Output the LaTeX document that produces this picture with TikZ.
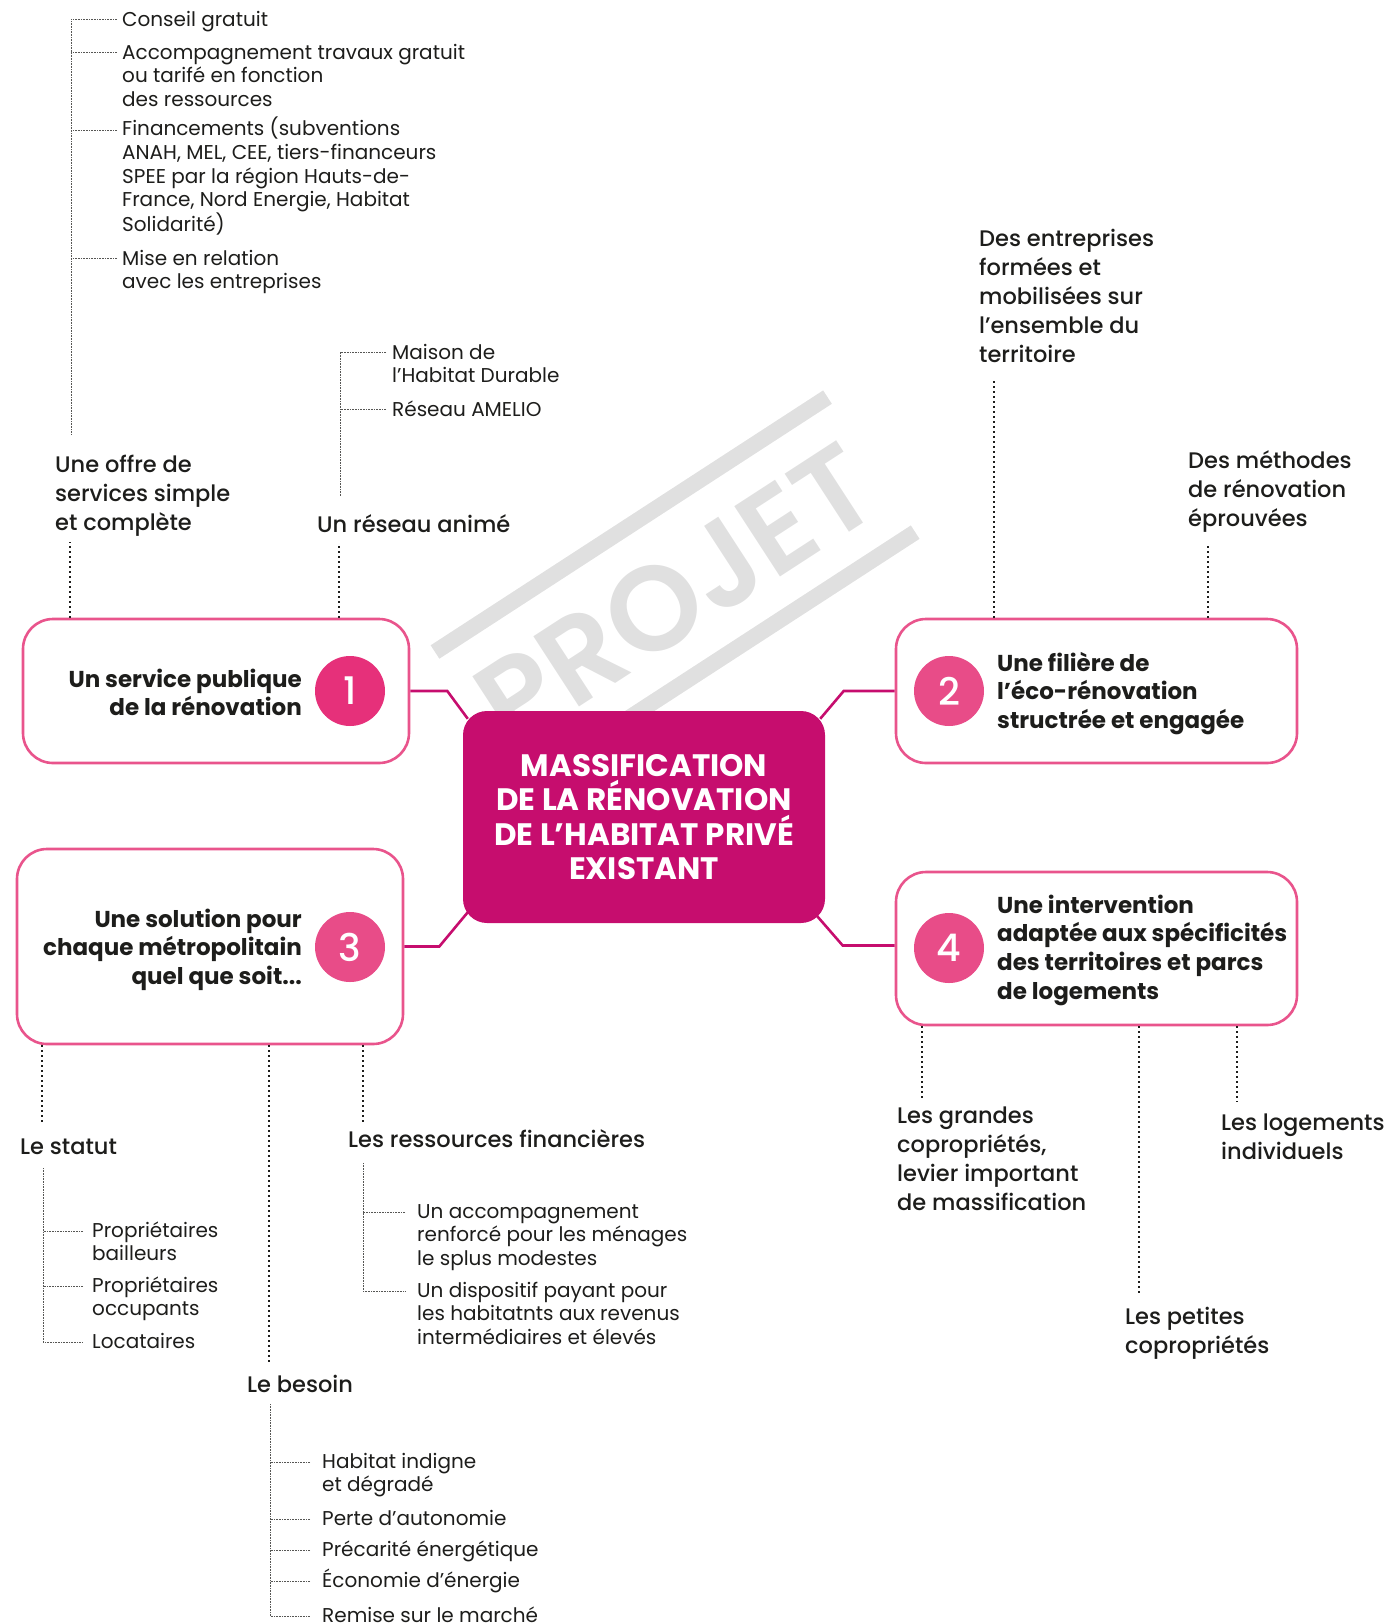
\documentclass[tikz,border=0pt]{standalone}
\usepackage{fontspec}
\setmainfont{Poppins}
\newfontfamily\popmed{Poppins Medium}
\newfontfamily\popsemi{Poppins SemiBold}

\definecolor{ink}{HTML}{1D1D1B}
\definecolor{coeur}{HTML}{C60D6E}
\definecolor{rose}{HTML}{E9548C}
\definecolor{vif}{HTML}{E6307A}
\definecolor{doux}{HTML}{E84C88}
\definecolor{filigrane}{HTML}{E0E0E0}

\tikzset{
  card/.style={draw=rose, line width=2.6pt, rounded corners=30pt, fill=white},
  hub/.style={fill=coeur, rounded corners=24pt, text=white, align=center,
    font=\bfseries\fontsize{31}{34.5}\selectfont},
  pastille/.style={circle, fill=#1, minimum size=70pt, inner sep=0pt, text=white,
    font=\popmed\fontsize{38}{38}\selectfont},
  title/.style={font=\popmed\fontsize{22.5}{29}\selectfont, text=ink, align=left,
    inner sep=0pt, anchor=base west},
  item/.style={font=\fontsize{20}{23.7}\selectfont, text=ink, align=left,
    inner sep=0pt, anchor=base west},
  boxtext/.style={font=\bfseries\fontsize{23}{28.8}\selectfont, text=ink, inner sep=0pt},
  link/.style={draw=coeur, line width=2.6pt},
  dotline/.style={draw=ink, line width=2pt, dash pattern=on 1.8pt off 3.2pt},
  twig/.style={draw=ink!75, line width=0.7pt, dash pattern=on 0.8pt off 0.8pt},
}

\begin{document}
\begin{tikzpicture}[x=1pt, y=-1pt]
  \useasboundingbox (0,0) rectangle (1392,1623);

  % filigrane
  \begin{scope}[shift={(435,652)}, rotate=33]
    \draw[filigrane, line width=16pt] (0,0) -- (468,0);
    \draw[filigrane, line width=16pt] (0,161) -- (468,161);
    \node[anchor=north west, inner sep=0pt, transform shape, text=filigrane,
      font=\popsemi\fontsize{120}{120}\selectfont] (projet) at (10,40) {PROJET};
  \end{scope}

  % coeur et les 4 axes
  \node[hub, minimum width=362pt, minimum height=212pt] (mid) at (644,817)
    {MASSIFICATION\\DE LA RÉNOVATION\\DE L’HABITAT PRIVÉ\\EXISTANT};
  \node[card, minimum width=386pt, minimum height=144pt] (box1) at (216,691) {};
  \node[card, minimum width=401pt, minimum height=144pt] (box2) at (1096.5,691) {};
  \node[card, minimum width=386pt, minimum height=195pt] (box3) at (210,946.5) {};
  \node[card, minimum width=401pt, minimum height=153pt] (box4) at (1096.5,948.5) {};

  \draw[link] (box1.east) -- ++(37,0) -- ([shift={(5,8)}]mid.north west);
  \draw[link] (box2.west) -- ++(-51,0) -- ([shift={(-5,8)}]mid.north east);
  \draw[link] (box3.east) -- ++(35,0) -- ([shift={(5,-11)}]mid.south west);
  \draw[link] ([yshift=3pt]box4.west) -- ++(-52,0) -- ([shift={(-8,-7)}]mid.south east);

  \node[pastille=vif]  (num1) at (350,691) {1};
  \node[pastille=doux] (num2) at (949,691) {2};
  \node[pastille=doux] (num3) at (350,947) {3};
  \node[pastille=doux] (num4) at (949,948) {4};

  \node[boxtext, align=right, anchor=base east] (txt1) at (302,715.8)
    {Un service publique\\de la rénovation};
  \node[boxtext, align=left, anchor=base west] (txt2) at (997,728.6)
    {Une filière de\\l’éco-rénovation\\structrée et engagée};
  \node[boxtext, align=right, anchor=base east] (txt3) at (302,984.6)
    {Une solution pour\\chaque métropolitain\\quel que soit...};
  \node[boxtext, align=left, anchor=base west] (txt4) at (997,999.4)
    {Une intervention\\adaptée aux spécificités\\des territoires et parcs\\de logements};

  % axe 1
  \node[title] (offre) at (55,530) {Une offre de\\services simple\\et complète};
  \node[title] (reseau) at (317,532) {Un réseau animé};
  \draw[dotline] ([xshift=48pt]box1.north west) -- ++(0,-76);
  \draw[dotline] ([xshift=317.5pt]box1.north west) -- ++(0,-72);

  \node[item] (a1) at (122,26) {Conseil gratuit};
  \node[item] (a2) at (122,106.4) {Accompagnement travaux gratuit\\ou tarifé en fonction\\des ressources};
  \node[item] (a3) at (122,231.8) {Financements (subventions\\ANAH, MEL, CEE, tiers-financeurs\\SPEE par la région Hauts-de-\\France, Nord Energie, Habitat\\Solidarité)};
  \node[item] (a4) at (122,288.7) {Mise en relation\\avec les entreprises};
  \draw[twig] ([shift={(-5,-7)}]a1.base west) -| ([shift={(16,-96)}]offre.base west);
  \draw[twig] ([shift={(-5,-54.4)}]a2.base west) -- +(-46,0);
  \draw[twig] ([shift={(-5,-101.8)}]a3.base west) -- +(-46,0);
  \draw[twig] ([shift={(-5,-30.7)}]a4.base west) -- +(-46,0);

  \node[item] (b1) at (392,382.7) {Maison de\\l’Habitat Durable};
  \node[item] (b2) at (392,416) {Réseau AMELIO};
  \draw[twig] ([shift={(-6,-30.7)}]b1.base west) -| ([shift={(23.5,-36)}]reseau.base west);
  \draw[twig] ([shift={(-6,-7)}]b2.base west) -- +(-45.5,0);

  % axe 2
  \node[title] (entreprises) at (979,362)
    {Des entreprises\\formées et\\mobilisées sur\\l’ensemble du\\territoire};
  \node[title] (methodes) at (1188,526) {Des méthodes\\de rénovation\\éprouvées};
  \draw[dotline] ([xshift=99pt]box2.north west) -- ++(0,-239);
  \draw[dotline] ([xshift=313pt]box2.north west) -- ++(0,-72);

  % axe 3
  \node[title] (statut) at (20,1154) {Le statut};
  \node[title] (besoin) at (247,1392) {Le besoin};
  \node[title] (ressources) at (348,1147) {Les ressources financières};
  \draw[dotline] ([xshift=26pt]box3.south west) -- ++(0,79);
  \draw[dotline] ([xshift=253pt]box3.south west) -- ++(0,318);
  \draw[dotline] ([xshift=347pt]box3.south west) -- ++(0,79);

  \node[item] (s1) at (92,1260.7) {Propriétaires\\bailleurs};
  \node[item] (s2) at (92,1315.7) {Propriétaires\\occupants};
  \node[item] (s3) at (92,1348) {Locataires};
  \draw[twig] (statut.base west) ++(23,14) |- ([shift={(-9,-6)}]s3.base west);
  \draw[twig] ([shift={(-9,-29.7)}]s1.base west) -- +(-40,0);
  \draw[twig] ([shift={(-9,-29.7)}]s2.base west) -- +(-40,0);

  \node[item] (r1) at (417,1265.4) {Un accompagnement\\renforcé pour les ménages\\le splus modestes};
  \node[item] (r2) at (417,1344.4) {Un dispositif payant pour\\les habitatnts aux revenus\\intermédiaires et élevés};
  \draw[twig] (ressources.base west) ++(15,16) |- ([shift={(-12,-53.4)}]r2.base west);
  \draw[twig] ([shift={(-12,-53.4)}]r1.base west) -- +(-42,0);

  \node[item] (n1) at (322,1491.7) {Habitat indigne\\et dégradé};
  \node[item] (n2) at (322,1525) {Perte d’autonomie};
  \node[item] (n3) at (322,1556) {Précarité énergétique};
  \node[item] (n4) at (322,1587) {Économie d’énergie};
  \node[item] (n5) at (322,1622) {Remise sur le marché};
  \draw[twig] (besoin.base west) ++(23,12) |- ([shift={(-12,-6)}]n5.base west);
  \draw[twig] ([shift={(-12,-29.7)}]n1.base west) -- +(-40,0);
  \draw[twig] ([shift={(-12,-6)}]n2.base west) -- +(-40,0);
  \draw[twig] ([shift={(-12,-6)}]n3.base west) -- +(-40,0);
  \draw[twig] ([shift={(-12,-6)}]n4.base west) -- +(-40,0);

  % axe 4
  \node[title] (grandes) at (897,1210)
    {Les grandes\\copropriétés,\\levier important\\de massification};
  \node[title] (petites) at (1125,1353) {Les petites\\copropriétés};
  \node[title] (logements) at (1221,1159) {Les logements\\individuels};
  \draw[dotline] ([xshift=27pt]box4.south west) -- ++(0,72);
  \draw[dotline] ([xshift=244pt]box4.south west) -- ++(0,267);
  \draw[dotline] ([xshift=342pt]box4.south west) -- ++(0,76);
\end{tikzpicture}
\end{document}
